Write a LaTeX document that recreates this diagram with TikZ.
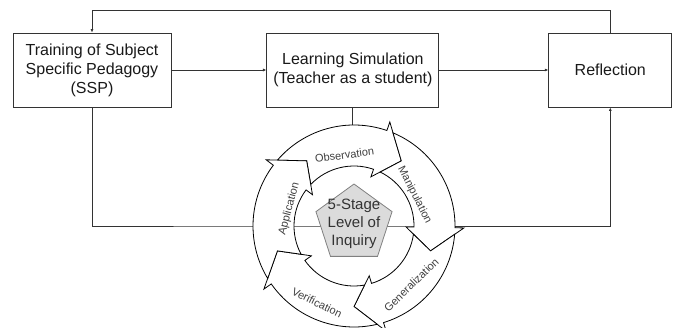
\documentclass[tikz,border=0pt]{standalone}
\usepackage{fontspec}
\setmainfont{Liberation Sans}
\usetikzlibrary{arrows.meta, positioning, shapes.geometric}

\begin{document}
\begin{tikzpicture}[x=1pt, y=1pt, >={Latex[length=3.5pt, width=3pt]},
    stagebox/.style={rectangle, draw=black!80, line width=0.9pt, minimum height=74pt,
        inner sep=2pt, align=center, text=black!90, font=\fontsize{16}{19}\selectfont},
    flow/.style={draw=black!80, line width=0.9pt},
    cyclearrow/.style={draw=black, line width=0.8pt, fill=white},
    phase/.style={inner sep=0pt, text=black!75, font=\fontsize{11}{13}\selectfont}]
    \useasboundingbox (0,0) rectangle (676,327);

    \node[stagebox, minimum width=158pt] (ssp) at (92,257) {Training of Subject\\Specific Pedagogy\\(SSP)};
    \node[stagebox, minimum width=172pt, right=95pt of ssp] (sim) {Learning Simulation\\(Teacher as a student)};
    \node[stagebox, minimum width=123pt, right=109pt of sim] (refl) {Reflection};

    \node[circle, minimum size=202pt, inner sep=0pt] (ring) at (354,101) {};

    \draw[flow, ->] (ssp) -- (sim);
    \draw[flow, ->] (sim) -- (refl);
    \draw[flow, ->] (refl.north) -- ++(0,22) -| (ssp.north);
    \draw[flow, ->] (ssp.south) |- (ring.west) -| (refl.south);
    \draw[flow] (sim.south) -- (sim.south |- ring.north);

    % five curved arrows of the inquiry cycle
    \foreach \k in {0,...,4}
        \draw[cyclearrow, shift={(ring.center)}, rotate=-72*\k]
            (139.3:101pt) arc[start angle=139.3, end angle=71, radius=101pt]
            -- (71:110pt) -- (54:80.5pt) -- (71:52pt) -- (71:60pt)
            arc[start angle=71, end angle=136.1, radius=60pt]
            -- (126:80.5pt) -- cycle;

    \node[regular polygon, regular polygon sides=5, minimum size=80pt, inner sep=0pt,
        draw=black!50, fill=black!14, line width=0.8pt] (core) at ([yshift=2pt]ring.center) {};
    \node[align=center, text=black!80, font=\fontsize{15}{18}\selectfont] (corelabel) at (core.center) {5-Stage\\Level of\\Inquiry};

    \node[phase, rotate=7.6] (obs) at ([shift={(97.6:71.6pt)}]ring.center) {Observation};
    \node[phase, rotate=-63] (man) at ([shift={(27:68pt)}]ring.center) {Manipulation};
    \node[phase, rotate=44.3] (gen) at ([shift={(-45.7:82pt)}]ring.center) {Generalization};
    \node[phase, rotate=-25.8] (ver) at ([shift={(-115.8:85pt)}]ring.center) {Verification};
    \node[phase, rotate=75] (app) at ([shift={(165:67pt)}]ring.center) {Application};
\end{tikzpicture}
\end{document}
